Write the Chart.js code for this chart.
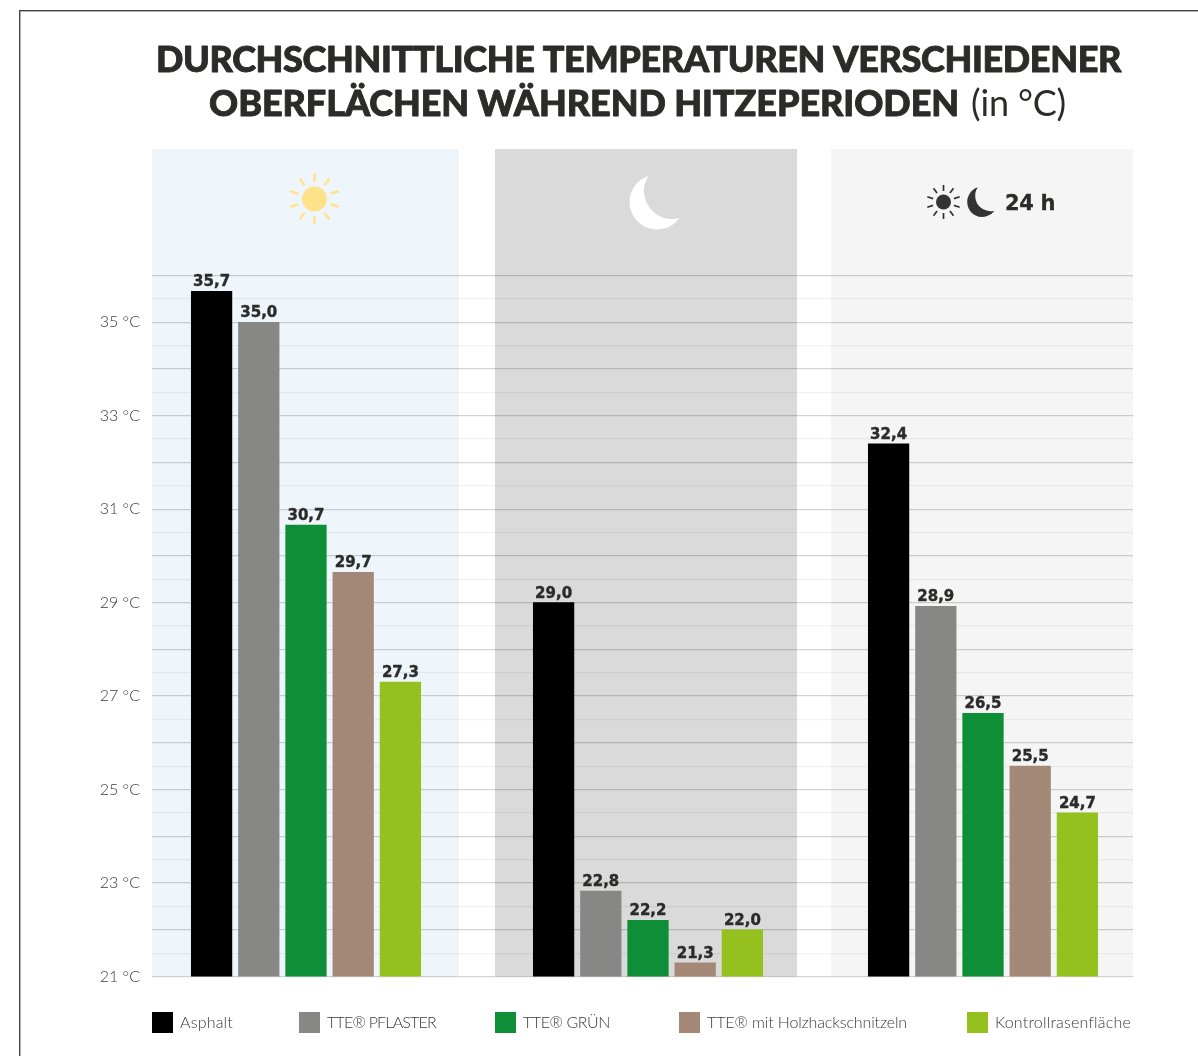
<!DOCTYPE html>
<html lang="de">
<head>
<meta charset="utf-8">
<title>Durchschnittliche Temperaturen</title>
<style>
html,body{margin:0;padding:0;background:#fff}
canvas{display:block;filter:blur(0.45px)}
</style>
<script src="https://cdn.jsdelivr.net/npm/chart.js@4/dist/chart.umd.min.js"></script>
</head>
<body>
<canvas id="c" width="1198" height="1056"></canvas>
<script>
const periods = ['Tag', 'Nacht', '24 h'];
const surfaces = ['Asphalt', 'TTE® PFLASTER', 'TTE® GRÜN', 'TTE® mit Holzhackschnitzeln', 'Kontrollrasenfläche'];
const asphalt = [35.66, 29.0, 32.4];
const pflaster = [35.0, 22.83, 28.92];
const gruen = [30.66, 22.2, 26.63];
const holz = [29.65, 21.29, 25.5];
const rasen = [27.3, 22.0, 24.5];
const printedAsphalt = ['35,7', '29,0', '32,4'];
const printedPflaster = ['35,0', '22,8', '28,9'];
const printedGruen = ['30,7', '22,2', '26,5'];
const printedHolz = ['29,7', '21,3', '25,5'];
const printedRasen = ['27,3', '22,0', '24,7'];
const seriesColors = ['#000000', '#878785', '#0E8E36', '#A48877', '#95C11F'];

const series = [asphalt, pflaster, gruen, holz, rasen];
const printed = [printedAsphalt, printedPflaster, printedGruen, printedHolz, printedRasen];

// layout (px)
const panels = [
  {x0: 152, x1: 459, color: '#EEF6FC', centre: 306},
  {x0: 495, x1: 797, color: '#DADADA', centre: 648},
  {x0: 831, x1: 1133, color: '#F5F5F5', centre: 983}
];
const PANEL_TOP = 149;
const legendX = [152, 299, 495, 679, 967];
const legendTextW = [53, 109, 87, 200, 136];
const INK = '#2B2B2A';
const SOFT = '#3A3A3A';
const BODY_FONT = 'Lato, "Noto Sans", sans-serif';

class PanelScale extends Chart.CategoryScale {
  getPixelForValue(value) {
    const i = typeof value === 'number' ? value : this.parse(value);
    return panels[i].centre;
  }
}
PanelScale.id = 'panelCategory';
PanelScale.defaults = Chart.CategoryScale.defaults;
Chart.register(PanelScale);

function crescent(ctx, ox, oy, s, color) {
  const a = [19, 0], b = [49, 43], o = [27, 27], n = [42, 16];
  ctx.save();
  ctx.translate(ox, oy);
  ctx.scale(s, s);
  ctx.fillStyle = color;
  ctx.beginPath();
  ctx.arc(o[0], o[1], 27.5, Math.atan2(a[1]-o[1], a[0]-o[0]), Math.atan2(b[1]-o[1], b[0]-o[0]), true);
  ctx.arc(n[0], n[1], 28, Math.atan2(b[1]-n[1], b[0]-n[0]), Math.atan2(a[1]-n[1], a[0]-n[0]), false);
  ctx.closePath();
  ctx.fill();
  ctx.restore();
}
function sun(ctx, cx, cy, r, r0, r1, w, color) {
  ctx.save();
  ctx.fillStyle = color; ctx.strokeStyle = color; ctx.lineWidth = w;
  ctx.beginPath(); ctx.arc(cx, cy, r, 0, Math.PI*2); ctx.fill();
  for (let i = 0; i < 10; i++) {
    const t = -Math.PI/2 + i*Math.PI/5;
    ctx.beginPath();
    ctx.moveTo(cx + r0*Math.cos(t), cy + r0*Math.sin(t));
    ctx.lineTo(cx + r1*Math.cos(t), cy + r1*Math.sin(t));
    ctx.stroke();
  }
  ctx.restore();
}
function fitText(ctx, text, x, y, width, heavy) {
  ctx.letterSpacing = '0px';
  const w = ctx.measureText(text).width;
  ctx.letterSpacing = ((width - w) / text.length) + 'px';
  ctx.fillText(text, x, y);
  if (heavy) { ctx.lineWidth = heavy; ctx.strokeStyle = ctx.fillStyle; ctx.lineJoin = 'round'; ctx.strokeText(text, x, y); }
  ctx.letterSpacing = '0px';
}

const decor = {
  id: 'decor',
  beforeDraw(chart) {
    const ctx = chart.ctx, area = chart.chartArea;
    ctx.save();
    ctx.fillStyle = '#fff'; ctx.fillRect(0, 0, chart.width, chart.height);
    panels.forEach(p => { ctx.fillStyle = p.color; ctx.fillRect(p.x0, PANEL_TOP, p.x1-p.x0, area.bottom-PANEL_TOP); });
    // frame
    ctx.fillStyle = '#444';
    ctx.fillRect(19, 10, chart.width-19, 1.4);
    ctx.fillRect(19, 10, 1.4, chart.height-10);
    // title
    ctx.textBaseline = 'alphabetic'; ctx.textAlign = 'left'; ctx.fillStyle = INK;
    ctx.font = '900 36px Lato, sans-serif';
    fitText(ctx, 'DURCHSCHNITTLICHE TEMPERATUREN VERSCHIEDENER', 156, 72, 965, 0.9);
    fitText(ctx, 'OBERFLÄCHEN WÄHREND HITZEPERIODEN', 209, 116, 750, 0.9);
    ctx.font = '400 36px Lato, sans-serif';
    fitText(ctx, '(in °C)', 971, 116, 95);
    // icons
    sun(ctx, 314.5, 199, 12.5, 17, 25.5, 2.4, '#FFE28A');
    crescent(ctx, 630, 175, 1, '#FFFFFF');
    sun(ctx, 943.5, 202, 7.5, 11, 17, 1.7, '#333333');
    crescent(ctx, 967.5, 187, 0.55, '#333333');
    ctx.font = '700 21px "DejaVu Sans", sans-serif';
    ctx.fillStyle = INK;
    fitText(ctx, '24 h', 1005, 210, 50, 0.3);
    // legend
    ctx.font = '300 16px ' + BODY_FONT;
    chart.data.datasets.forEach((d, i) => {
      ctx.fillStyle = d.backgroundColor;
      ctx.fillRect(legendX[i], 1012, 21, 21);
      ctx.fillStyle = SOFT;
      ctx.textBaseline = 'middle';
      fitText(ctx, d.label, legendX[i] + 28, 1023, legendTextW[i]);
    });
    ctx.restore();
  },
  afterDatasetsDraw(chart) {
    const ctx = chart.ctx;
    ctx.save();
    ctx.font = '700 15px "DejaVu Sans", sans-serif';
    ctx.fillStyle = INK; ctx.strokeStyle = INK; ctx.lineWidth = 0.4;
    ctx.textAlign = 'center'; ctx.textBaseline = 'alphabetic';
    chart.data.datasets.forEach((d, i) => {
      chart.getDatasetMeta(i).data.forEach((bar, j) => {
        ctx.fillText(printed[i][j], bar.x, bar.y - 5);
        ctx.strokeText(printed[i][j], bar.x, bar.y - 5);
      });
    });
    ctx.restore();
  }
};

new Chart(document.getElementById('c'), {
  type: 'bar',
  data: {
    labels: periods,
    datasets: surfaces.map((label, i) => ({
      label, data: series[i], backgroundColor: seriesColors[i],
      borderWidth: 0, barThickness: 47.2, maxBarThickness: 40.6
    }))
  },
  plugins: [decor],
  options: {
    responsive: false,
    animation: false,
    layout: {padding: {top: 275.5, right: 65, bottom: 79.5, left: 0}},
    plugins: {legend: {display: false}, title: {display: false}, tooltip: {enabled: false}},
    scales: {
      x: {type: 'panelCategory', display: false},
      y: {
        min: 21, max: 36,
        afterFit(scale) { scale.width = 152; },
        ticks: {
          stepSize: 0.5, autoSkip: false, padding: 12,
          color: SOFT, font: {family: BODY_FONT, size: 16, weight: '300'},
          callback(v) { return (v % 2 === 1 && v < 36) ? v + ' °C' : ''; }
        },
        grid: {
          drawTicks: false, lineWidth: 1.2,
          color(c) { return Number.isInteger(c.tick.value) ? 'rgba(0,0,0,0.17)' : 'rgba(0,0,0,0.05)'; }
        },
        border: {display: false}
      }
    }
  }
});
</script>
</body>
</html>
